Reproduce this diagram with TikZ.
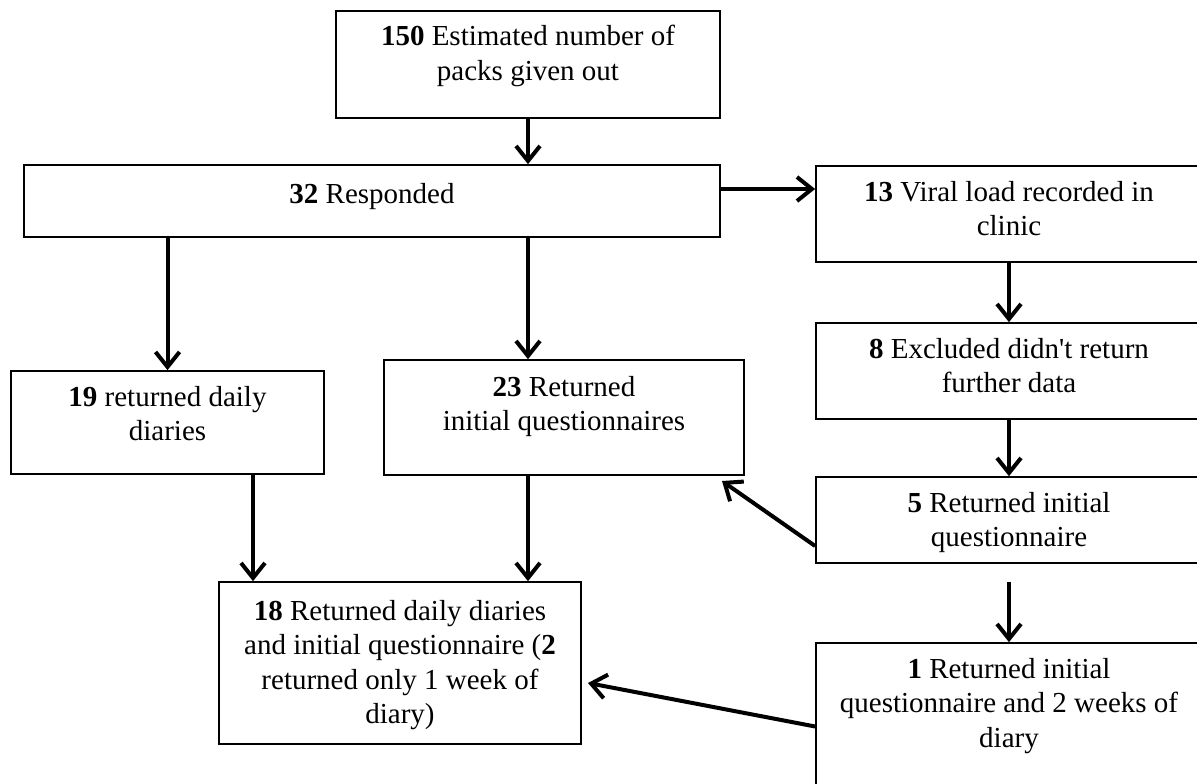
\documentclass[tikz,border=0pt]{standalone}
\usepackage{fontspec}
\setmainfont{Liberation Serif}[Ligatures=TeXOff]
\usetikzlibrary{arrows.meta}
\begin{document}
\begin{tikzpicture}[x=1pt,y=-1pt,
  box/.style={draw, line width=1.7pt, rectangle, inner sep=0pt},
  txt/.style={anchor=north, inner sep=0pt, align=center, font=\fontsize{29}{34.5}\selectfont},
  arr/.style={line width=4pt, -{Straight Barb[length=15pt,width=24pt]}}]
\useasboundingbox (0,0) rectangle (1197,784);
% boxes
\node[box, minimum width=384pt, minimum height=107pt] (b150) at (528,64.5) {};
\node[box, minimum width=696pt, minimum height=72pt] (b32) at (372,201) {};
\node[box, minimum width=386pt, minimum height=96pt] (b13) at (1009,214) {};
\node[box, minimum width=313pt, minimum height=103pt] (b19) at (167.5,422.5) {};
\node[box, minimum width=360pt, minimum height=115pt] (b23) at (564,417.5) {};
\node[box, minimum width=386pt, minimum height=96pt] (b8) at (1009,371) {};
\node[box, minimum width=386pt, minimum height=86pt] (b5) at (1009,520) {};
\node[box, minimum width=362pt, minimum height=162pt] (b18) at (400,663) {};
\node[box, minimum width=386pt, minimum height=167pt] (b1) at (1009,726.5) {};
% texts
\node[txt] (t150) at (528,25) {\textbf{150} Estimated number of\\packs given out};
\node[txt] (t32) at (372,183) {\textbf{32} Responded};
\node[txt] (t13) at (1009,181) {\textbf{13} Viral load recorded in\\clinic};
\node[txt] (t19) at (167.5,386) {\textbf{19} returned daily\\diaries};
\node[txt] (t23) at (564,376) {\textbf{23} Returned\\initial questionnaires};
\node[txt] (t8) at (1009,338) {\textbf{8} Excluded didn't return\\further data};
\node[txt] (t5) at (1009,492) {\textbf{5} Returned initial\\questionnaire};
\node[txt] (t18) at (400,600) {\textbf{18} Returned daily diaries\\and initial questionnaire (\textbf{2}\\returned only 1 week of\\diary)};
\node[txt] (t1) at (1009,658) {\textbf{1} Returned initial\\questionnaire and 2 weeks of\\diary};
% free ends
\coordinate (p23) at (722,481);
\coordinate (p18) at (588,683);
% connectors
\draw[arr] (b150.south) -- (b150.south |- b32.north);
\draw[arr] ([yshift=12pt]b32.east) -- ([yshift=12pt]b32.east -| b13.west);
\draw[arr] (b32.south -| b19.north) -- (b19.north);
\draw[arr] (b150.south |- b32.south) -- (b150.south |- b23.north);
\draw[arr] (b13.south) -- (b8.north);
\draw[arr] (b8.south) -- (b5.north);
\draw[arr] ([yshift=-26pt]b5.west) -- (p23);
\draw[arr, shorten <=18pt] (b5.south) -- (b1.north);
\draw[arr] (b1.west) -- (p18);
\draw[arr] ([xshift=85.5pt]b19.south) -- ([xshift=85.5pt]b19.south |- b18.north);
\draw[arr] (b150.south |- b23.south) -- (b150.south |- b18.north);
\end{tikzpicture}
\end{document}
